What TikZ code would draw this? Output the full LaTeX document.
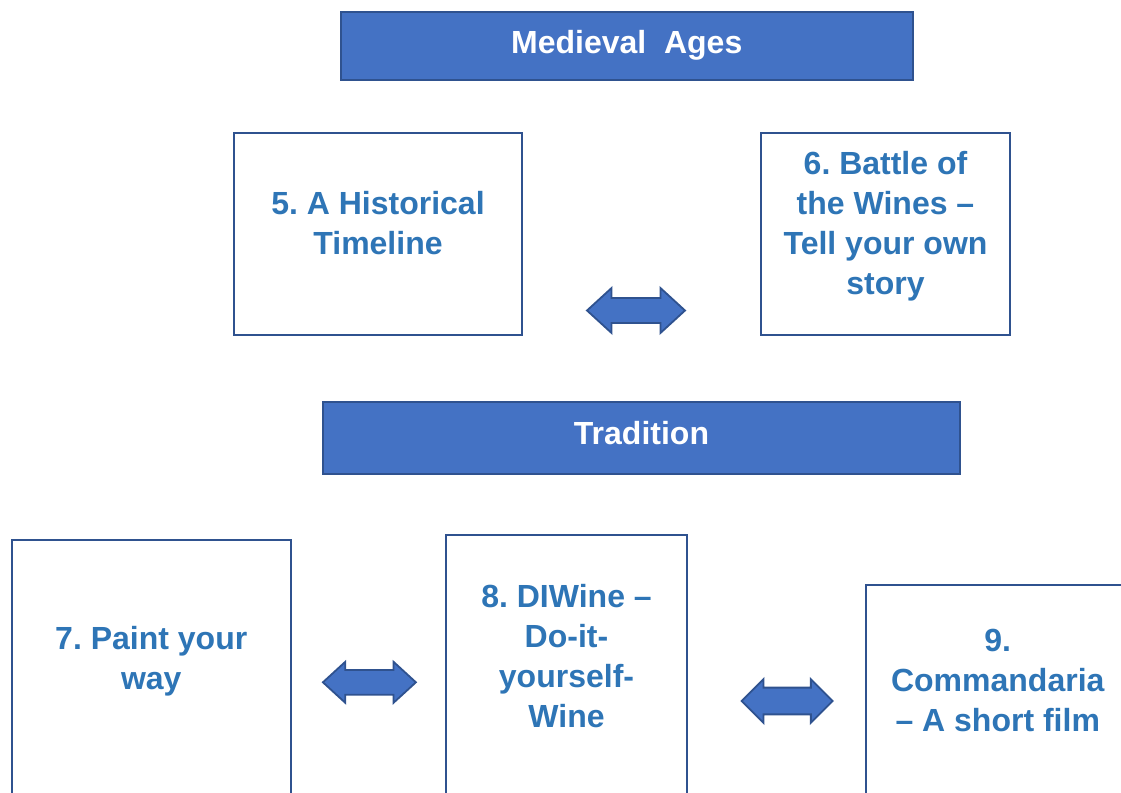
\documentclass[tikz,border=0pt]{standalone}
\usepackage{fontspec}
\setmainfont{Liberation Sans}
\usepackage{xcolor}
\usetikzlibrary{shapes.arrows}
\frenchspacing

\definecolor{hdrfill}{HTML}{4472C4}
\definecolor{hdrline}{HTML}{2F528F}
\definecolor{cardblue}{HTML}{2E75B6}

\tikzset{
  header/.style={draw=hdrline, line width=2pt, fill=hdrfill, inner sep=0pt},
  headertext/.style={text=white, font=\fontsize{32}{40}\selectfont\bfseries, inner sep=0pt},
  card/.style={draw=hdrline, line width=2pt, fill=white, inner sep=0pt},
  cardlabel/.style={text=cardblue, font=\fontsize{32}{40}\selectfont\bfseries, align=center, inner sep=0pt},
  dblarrow/.style={double arrow, draw=hdrline, line width=1.8pt, fill=hdrfill,
    inner xsep=0pt, double arrow tip angle=85}
}

\begin{document}
\begin{tikzpicture}[x=1pt, y=-1pt]
  \useasboundingbox (0,0) rectangle (1121,792);
  \clip (0,0) rectangle (1121,792);

  % headers
  \node[header, minimum width=572.5pt, minimum height=68pt] (h1) at (626.75,46) {};
  \node[headertext] (h1t) at ([yshift=1pt]h1.center) {Medieval\ \ Ages};

  \node[header, minimum width=637pt, minimum height=72pt] (h2) at (641.5,438) {};
  \node[headertext] (h2t) at ([yshift=5pt]h2.center) {Tradition};

  % medieval cards
  \node[card, minimum width=288pt, minimum height=202pt] (b5) at (378,234) {};
  \node[cardlabel] (t5) at ([yshift=11pt]b5.center) {5. A Historical\\Timeline};

  \node[card, minimum width=249pt, minimum height=202pt] (b6) at (885.5,234) {};
  \node[cardlabel] (t6) at ([yshift=8pt]b6.center) {6. Battle of\\the Wines --\\Tell your own\\story};

  % tradition cards
  \node[card, minimum width=278.5pt, minimum height=258pt] (b7) at (151.25,669) {};
  \node[cardlabel] (t7) at ([yshift=8pt]b7.center) {7. Paint your\\way};

  \node[card, minimum width=241pt, minimum height=263pt] (b8) at (566.5,666.5) {};
  \node[cardlabel] (t8) at ([yshift=10pt]b8.center) {8. DIWine --\\Do-it-\\yourself-\\Wine};

  \node[card, minimum width=264.5pt, minimum height=213pt] (b9) at (997.75,691.5) {};
  \node[cardlabel] (t9) at ([yshift=11pt]b9.center) {9.\\Commandaria\\-- A short film};

  % block arrows
  \node[dblarrow, minimum height=98pt, minimum width=45pt, inner ysep=8pt] (a56) at (636,310.5) {};
  \node[dblarrow, minimum height=93pt, minimum width=41pt, inner ysep=10pt] (a78) at (369.4,682.3) {};
  \node[dblarrow, minimum height=91pt, minimum width=43.7pt, inner ysep=10.3pt, double arrow tip angle=90] (a89) at (787.2,701) {};
\end{tikzpicture}
\end{document}
